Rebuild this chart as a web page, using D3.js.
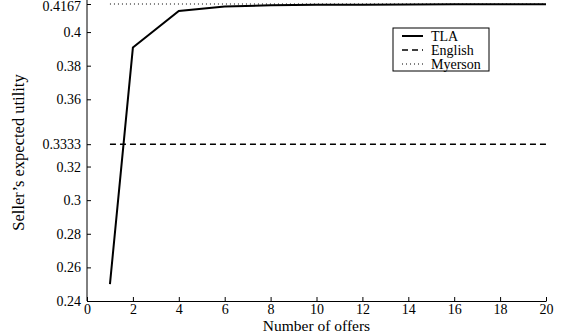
<!DOCTYPE html>
<html>
<head>
<meta charset="utf-8">
<script src="https://cdn.jsdelivr.net/npm/d3@7"></script>
<style>
  body { margin: 0; background: #fff; }
  svg { display: block; font-family: "Liberation Serif", "Times New Roman", serif; }
</style>
</head>
<body>
<div id="chart"></div>
<script>
// values
const offers = [1, 2, 4, 6, 8, 10, 12, 14, 16, 18, 20];
const tla = [0.25, 0.3908, 0.4125, 0.4152, 0.4159, 0.4162, 0.4163, 0.4164, 0.4165, 0.4165, 0.4165];
const english = 0.3333;
const myerson = 0.4167;
const xTicks = [0, 2, 4, 6, 8, 10, 12, 14, 16, 18, 20];
const yTicks = [0.24, 0.26, 0.28, 0.3, 0.32, 0.3333, 0.36, 0.38, 0.4, 0.4167];
const yTickLabels = ["0.24", "0.26", "0.28", "0.3", "0.32", "0.3333", "0.36", "0.38", "0.4", "0.4167"];

const width = 563, height = 334;
const margin = {top: 4, right: 17, bottom: 33, left: 87};

const svg = d3.select("#chart").append("svg")
    .attr("width", width)
    .attr("height", height);

const x = d3.scaleLinear().domain([0, 20]).range([margin.left, width - margin.right]);
const y = d3.scaleLinear().domain([0.24, 0.4167]).range([height - margin.bottom, margin.top]);

// axes, ticks pointing inward
const xAxis = svg.append("g")
    .attr("transform", `translate(0,${height - margin.bottom})`)
    .call(d3.axisBottom(x).tickValues(xTicks).tickSizeInner(-4).tickSizeOuter(0).tickPadding(5));

const yAxis = svg.append("g")
    .attr("transform", `translate(${margin.left},0)`)
    .call(d3.axisLeft(y).tickValues(yTicks).tickFormat((d, i) => yTickLabels[i])
        .tickSizeInner(-4).tickSizeOuter(0).tickPadding(6));

[xAxis, yAxis].forEach(g => {
    g.selectAll("text").attr("font-size", 14).attr("font-family", "Liberation Serif, serif").attr("fill", "#000");
    g.selectAll("line").attr("stroke", "#000");
    g.select(".domain").attr("stroke", "#000");
});
xAxis.selectAll("text").attr("dy", "0.6em");
yAxis.select(".domain").attr("d", `M0,${height - margin.bottom}V0`);
yAxis.selectAll(".tick").filter(d => d === 0.4167).select("text").attr("dy", "0.45em");

// axis titles
svg.append("text")
    .attr("x", (margin.left + width - margin.right) / 2)
    .attr("y", 331)
    .attr("text-anchor", "middle")
    .attr("font-size", 15.5)
    .text("Number of offers");

svg.append("text")
    .attr("transform", `translate(24,${(height - margin.bottom + margin.top) / 2}) rotate(-90)`)
    .attr("text-anchor", "middle")
    .attr("font-size", 16.5)
    .text("Seller\u2019s expected utility");

// series
const line = d3.line().x(d => x(d[0])).y(d => y(d[1]));

svg.append("path")
    .datum([[1, myerson], [20, myerson]])
    .attr("d", line)
    .attr("fill", "none")
    .attr("stroke", "#000")
    .attr("stroke-width", 1)
    .attr("stroke-dasharray", "1,3");

svg.append("path")
    .datum([[1, english], [20, english]])
    .attr("d", line)
    .attr("fill", "none")
    .attr("stroke", "#000")
    .attr("stroke-width", 1.5)
    .attr("stroke-dasharray", "6,4");

svg.append("path")
    .datum(offers.map((o, i) => [o, tla[i]]))
    .attr("d", line)
    .attr("fill", "none")
    .attr("stroke", "#000")
    .attr("stroke-width", 2)
    .attr("stroke-linejoin", "miter");

// legend
const legendItems = [
    {name: "TLA", width: 2, dash: null},
    {name: "English", width: 1.5, dash: "6,4"},
    {name: "Myerson", width: 1, dash: "1,3"}
];

const legend = svg.append("g").attr("transform", "translate(393,28)");

legend.append("rect")
    .attr("width", 96)
    .attr("height", 43)
    .attr("fill", "#fff")
    .attr("stroke", "#000")
    .attr("stroke-width", 1);

const item = legend.selectAll("g.item")
    .data(legendItems)
    .join("g")
    .attr("class", "item")
    .attr("transform", (d, i) => `translate(0,${8 + i * 14})`);

item.append("line")
    .attr("x1", 9)
    .attr("x2", 30)
    .attr("stroke", "#000")
    .attr("stroke-width", d => d.width)
    .attr("stroke-dasharray", d => d.dash);

item.append("text")
    .attr("x", 38)
    .attr("dy", "0.35em")
    .attr("font-size", 14)
    .text(d => d.name);
</script>
</body>
</html>
